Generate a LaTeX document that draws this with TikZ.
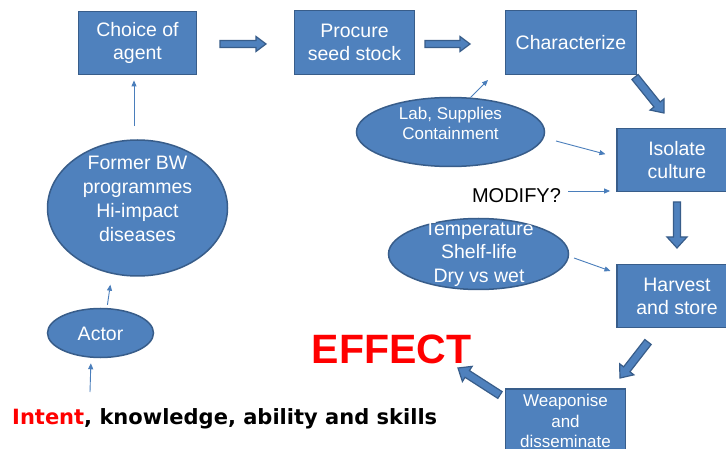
\documentclass[tikz,border=0pt]{standalone}
\usepackage{fontspec}
\setmainfont{Liberation Sans}
\newfontfamily\dejavu{DejaVu Sans}
\usetikzlibrary{calc,shapes.geometric,arrows.meta}
\definecolor{boxfill}{HTML}{4F81BD}
\definecolor{boxline}{HTML}{385D8A}
\definecolor{thinblue}{HTML}{4A7EBB}
% block arrow: from, to, half shaft, half head, head length
\newcommand\barrow[5]{%
  \path ($(#2)!#5!(#1)$) coordinate (hb);
  \filldraw[blockarr] ($(#1)!#3!-90:(#2)$) -- ($(hb)!#3!-90:(#2)$) -- ($(hb)!#4!-90:(#2)$) -- (#2)
    -- ($(hb)!#4!90:(#2)$) -- ($(hb)!#3!90:(#2)$) -- ($(#1)!#3!90:(#2)$) -- cycle;}
\begin{document}
\begin{tikzpicture}[x=1pt,y=-1pt,
  box/.style={draw=boxline, fill=boxfill, line width=1.8pt, text=white, align=center,
    inner sep=0pt, font=\fontsize{19.5}{23}\selectfont},
  ellip/.style={ellipse, draw=boxline, fill=boxfill, line width=1.5pt, inner sep=0pt},
  etext/.style={text=white, align=center, inner sep=0pt},
  blockarr/.style={fill=boxfill, draw=boxline, line width=1.2pt, line join=miter},
  thinarr/.style={draw=thinblue, line width=0.9pt, -{Triangle[length=6pt,width=5pt]}}]
\clip (0,0) rectangle (726,449);
\fill[white] (0,0) rectangle (726,449);

% boxes
\node[box, minimum width=118, minimum height=63] (choice) at (137.5,43) {Choice of\\agent};
\node[box, minimum width=120, minimum height=64] (procure) at (354.5,42.5) {Procure\\seed stock};
\node[box, minimum width=131, minimum height=64] (char) at (571,42.5) {Characterize};
\node[box, minimum width=120, minimum height=63] (isolate) at (677,160) {Isolate\\culture};
\node[box, minimum width=120, minimum height=63] (harvest) at (677,296) {Harvest\\and store};
\node[box, minimum width=120, minimum height=64, font=\fontsize{17}{20.5}\selectfont] (weapon) at (565.5,421) {Weaponise\\and\\disseminate};

% ellipses
\node[ellip, minimum width=180, minimum height=136] (former) at (137.5,208) {};
\node[etext, font=\fontsize{19.5}{24}\selectfont] (formertext) at (137.5,199) {Former BW\\programmes\\Hi-impact\\diseases};
\node[ellip, minimum width=106, minimum height=49] (actor) at (100.5,333) {};
\node[etext, font=\fontsize{19.5}{23}\selectfont] (actortext) at (100.5,334) {Actor};
\node[ellip, minimum width=188, minimum height=69] (lab) at (450.5,132) {};
\node[etext, font=\fontsize{17}{20}\selectfont] (labtext) at (450.5,123) {Lab, Supplies\\Containment};
\node[ellip, minimum width=180, minimum height=71] (temp) at (478.5,254) {};
\node[etext, font=\fontsize{19.5}{23.5}\selectfont] (temptext) at (479,254) {Temperature\\Shelf-life\\Dry vs wet};

% free texts
\node[font=\fontsize{20}{24}\selectfont, anchor=base, inner sep=0pt] (modify) at (516.5,203) {MODIFY?};
\node[font=\bfseries\fontsize{41}{48}\selectfont, text=red, anchor=base, inner sep=0pt] (effect) at (391.5,363) {EFFECT};
\node[font=\dejavu\bfseries\fontsize{21}{25}\selectfont, anchor=base west, inner sep=0pt] (intent) at (12,424) {\textcolor{red}{Intent}, knowledge, ability and skills};

% block arrows
\coordinate (b1s) at (220,44);  \coordinate (b1e) at (266,44);
\coordinate (b2s) at (425,44);  \coordinate (b2e) at (470,44);
\coordinate (b3s) at (635,77);  \coordinate (b3e) at (664,113);
\coordinate (b4s) at (677,202); \coordinate (b4e) at (677,248);
\coordinate (b5s) at (648,342); \coordinate (b5e) at (620,378);
\coordinate (b6s) at (500,395); \coordinate (b6e) at (458,368);
\barrow{b1s}{b1e}{3.5pt}{7.5pt}{10pt}
\barrow{b2s}{b2e}{3.5pt}{7.5pt}{10pt}
\barrow{b3s}{b3e}{4pt}{9pt}{11pt}
\barrow{b4s}{b4e}{3.5pt}{10pt}{11pt}
\barrow{b5s}{b5e}{4pt}{9pt}{11pt}
\barrow{b6s}{b6e}{4pt}{9pt}{11pt}

% thin arrows
\draw[thinarr, shorten <=13pt, shorten >=5pt] ([xshift=-3.5pt]former.north) -- ([xshift=-3.5pt]choice.south);
\draw[thinarr, shorten <=3pt, shorten >=8pt] ([xshift=6.5pt]actor.north) -- ([xshift=-26pt]former.south);
\coordinate (i0) at (90,392);
\draw[thinarr, shorten >=5pt] (i0) -- ([xshift=-9.5pt]actor.south);
\coordinate (labtip) at (488,80);
\draw[thinarr] (lab.60) -- (labtip);
\coordinate (labr) at (556,141);
\draw[thinarr, shorten >=11pt] (labr) -- ([yshift=3pt]isolate.west);
\coordinate (m0) at (568,191);
\draw[thinarr, shorten >=6pt] (m0) -- (m0 -| isolate.west);
\coordinate (t0) at (574,258);
\draw[thinarr, shorten >=6pt] (t0) -- ([yshift=23pt]harvest.west);
\end{tikzpicture}
\end{document}
